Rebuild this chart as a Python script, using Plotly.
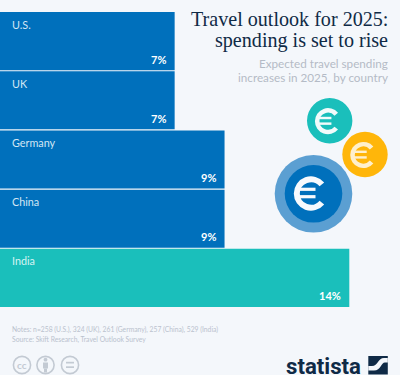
import math
import plotly.graph_objects as go

countries = ["U.S.", "UK", "Germany", "China", "India"]
values = [7, 7, 9, 9, 14]
colors = ["#0070BC", "#0070BC", "#0070BC", "#0070BC", "#1ABFBB"]
BG = "#F4F7FB"
W, H = 400, 375
SCALE = 24.95

def px(x): return x / W
def py(y): return 1 - y / H

fig = go.Figure(go.Bar(
    x=values, y=countries, orientation="h",
    marker=dict(color=colors, line=dict(width=0)),
    hoverinfo="skip",
))

fig.update_layout(
    width=W, height=H, margin=dict(l=0, r=0, t=0, b=0),
    paper_bgcolor=BG, plot_bgcolor=BG, showlegend=False, bargap=0.018,
    xaxis=dict(range=[0, W / SCALE], domain=[0, 1], visible=False, fixedrange=True),
    yaxis=dict(autorange="reversed", domain=[py(307.5), py(11.5)], visible=False, fixedrange=True),
)

ann = []
def t(x, y, s, size, color, anchor="left", family="Lato", **extra):
    shift = {"left": -2, "right": 2, "center": 0}[anchor]
    ann.append(dict(xref="paper", yref="paper", x=px(x + shift), y=py(y), text=s, showarrow=False,
                    xanchor=anchor, yanchor="middle", align=anchor,
                    font=dict(size=size, color=color, family=family), **extra))

# category names and value labels, anchored to the bars through the axes
for c, v in zip(countries, values):
    ann.append(dict(xref="paper", yref="y", x=px(10), y=c, yshift=17, text=c, showarrow=False,
                    xanchor="left", yanchor="middle",
                    font=dict(size=10.8, family="Lato", color="#D6F3F2" if c == "India" else "#D3E6F4")))
    ann.append(dict(xref="x", yref="y", x=v, xshift=-6.5, y=c, yshift=-18, text=f"<b>{v}%</b>", showarrow=False,
                    xanchor="right", yanchor="middle",
                    font=dict(size=11, family="Lato", color="#FFFFFF")))

# titles
t(388, 18.5, "Travel outlook for 2025:", 20.1, "#0F2A46", "right", "Liberation Serif")
t(388, 40, "spending is set to rise", 20.1, "#0F2A46", "right", "Liberation Serif")
t(388, 63, "Expected travel spending", 11.7, "#B4BBC6", "right")
t(388, 77, "increases in 2025, by country", 11.7, "#B4BBC6", "right")

# footer
t(12, 329, "Notes: n=258 (U.S.), 324 (UK), 261 (Germany), 257 (China), 529 (India)", 6.75, "#BAC2CE")
t(12, 339.5, "Source: Skift Research, Travel Outlook Survey", 6.75, "#BAC2CE")

shapes = []
def circle(cx, cy, r, fill=None, line=None, lw=0):
    shapes.append(dict(type="circle", xref="paper", yref="paper",
                       x0=px(cx - r), x1=px(cx + r), y0=py(cy + r), y1=py(cy - r),
                       fillcolor=fill or "rgba(0,0,0,0)", line=dict(color=line or "rgba(0,0,0,0)", width=lw)))

def rect(x0, y0, x1, y1, fill):
    shapes.append(dict(type="rect", xref="paper", yref="paper", x0=px(x0), x1=px(x1), y0=py(y1), y1=py(y0),
                       fillcolor=fill, line=dict(width=0)))

def euro(cx, cy, s, color):
    # open ring drawn as cubic segments, plus the two cross strokes
    r = 14.2 * s
    a0, a1 = math.radians(40), math.radians(320)
    n = 4
    d = (a1 - a0) / n
    k = 4 / 3 * math.tan(d / 4) * r
    pts = lambda a: (cx + r * math.cos(a), cy - r * math.sin(a))
    x, y = pts(a0)
    path = f"M {px(x)} {py(y)}"
    for i in range(n):
        a, b = a0 + i * d, a0 + (i + 1) * d
        p0, p3 = pts(a), pts(b)
        c1 = (p0[0] - k * math.sin(a), p0[1] - k * math.cos(a))
        c2 = (p3[0] + k * math.sin(b), p3[1] + k * math.cos(b))
        path += f" C {px(c1[0])} {py(c1[1])} {px(c2[0])} {py(c2[1])} {px(p3[0])} {py(p3[1])}"
    shapes.append(dict(type="path", xref="paper", yref="paper", path=path,
                       line=dict(color=color, width=6 * s), fillcolor="rgba(0,0,0,0)"))
    rect(cx - 13 * s, cy - 5.8 * s, cx + 4.5 * s, cy - 2.6 * s, color)
    rect(cx - 13 * s, cy + 1.6 * s, cx + 4.5 * s, cy + 4.8 * s, color)

# coins
circle(329.7, 120.8, 22.7, "#1ABFBB")
euro(328, 121.2, 0.76, "#F2FBFB")
circle(365, 154.5, 22.7, "#FFB60A")
euro(363.3, 155, 0.76, "#FFF0CC")
circle(313.5, 193.8, 38.8, "#5B9FD2")
circle(313.5, 193.8, 28.8, "#0070BC")
euro(311, 193.5, 1, "#F7FAFD")

# licence icons
ICON = "#C3CAD3"
for cx in (22, 45.5, 70):
    circle(cx, 365, 8.6, None, ICON, 1.6)
t(22, 365, "<b>cc</b>", 10, ICON, "center")
circle(45.5, 359.7, 1.9, ICON)
rect(43, 362.5, 48, 368.5, ICON)
rect(44, 368.5, 47, 372.5, ICON)
rect(66, 361.8, 74, 363.5, ICON)
rect(66, 366.3, 74, 368, ICON)

# statista wordmark and logo
t(361, 365.5, "<b>statista</b>", 22.2, "#0F2A46", "right", "Roboto", height=18, valign="middle")
rect(368.3, 356, 387.8, 374.5, "#0F2A46")
shapes.append(dict(type="path", xref="paper", yref="paper", line=dict(width=0), fillcolor=BG,
    path=f"M {px(368.3)} {py(366)} L {px(372)} {py(366)} C {px(378)} {py(366)} {px(378)} {py(358)} {px(384)} {py(358)} "
         f"L {px(387.8)} {py(358)} L {px(387.8)} {py(362.5)} L {px(385)} {py(362.5)} "
         f"C {px(381)} {py(362.5)} {px(381)} {py(370.5)} {px(374)} {py(370.5)} L {px(368.3)} {py(370.5)} Z"))

fig.update_layout(annotations=ann, shapes=shapes)
fig.write_html("out.html", config=dict(displayModeBar=False),
               post_script="document.body.style.margin='0';document.body.style.background='%s';" % BG)
